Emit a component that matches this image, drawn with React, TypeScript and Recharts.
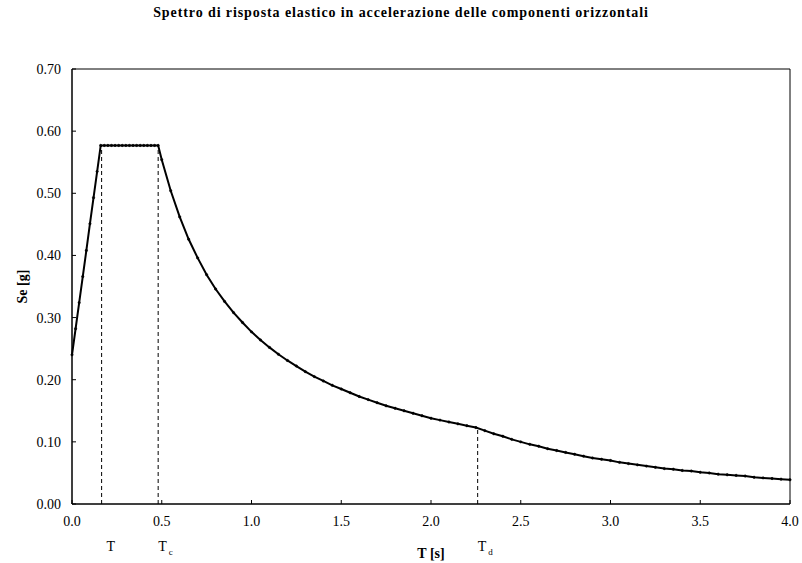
import React from "react";
import { LineChart, Line, XAxis, YAxis, ReferenceLine, ReferenceArea } from "recharts";

// periodo T [s]
const periods = [
  0, 0.02, 0.04, 0.06, 0.08, 0.1, 0.12, 0.14, 0.16, 0.18, 0.2, 0.22, 0.24, 0.26, 0.28, 0.3, 0.32, 0.34,
  0.36, 0.38, 0.4, 0.42, 0.44, 0.46, 0.48, 0.5, 0.55, 0.6, 0.65, 0.7, 0.75, 0.8, 0.85, 0.9, 0.95, 1.0,
  1.05, 1.1, 1.15, 1.2, 1.25, 1.3, 1.35, 1.4, 1.45, 1.5, 1.55, 1.6, 1.65, 1.7, 1.75, 1.8, 1.85, 1.9,
  1.95, 2.0, 2.05, 2.1, 2.15, 2.2, 2.25, 2.3, 2.35, 2.4, 2.45, 2.5, 2.55, 2.6, 2.65, 2.7, 2.75, 2.8,
  2.85, 2.9, 2.95, 3.0, 3.05, 3.1, 3.15, 3.2, 3.25, 3.3, 3.35, 3.4, 3.45, 3.5, 3.55, 3.6, 3.65, 3.7,
  3.75, 3.8, 3.85, 3.9, 3.95, 4.0,
];

// Se [g]
const accel = [
  0.24, 0.282, 0.324, 0.366, 0.408, 0.451, 0.493, 0.535, 0.577, 0.577, 0.577, 0.577, 0.577, 0.577, 0.577,
  0.577, 0.577, 0.577, 0.577, 0.577, 0.577, 0.577, 0.577, 0.577, 0.577, 0.554, 0.504, 0.462, 0.426,
  0.396, 0.369, 0.346, 0.326, 0.308, 0.292, 0.277, 0.264, 0.252, 0.241, 0.231, 0.222, 0.213, 0.205,
  0.198, 0.191, 0.185, 0.179, 0.173, 0.168, 0.163, 0.158, 0.154, 0.15, 0.146, 0.142, 0.138, 0.135,
  0.132, 0.129, 0.126, 0.123, 0.118, 0.113, 0.109, 0.104, 0.1, 0.096, 0.093, 0.089, 0.086, 0.083, 0.08,
  0.077, 0.074, 0.072, 0.07, 0.067, 0.065, 0.063, 0.061, 0.059, 0.057, 0.056, 0.054, 0.053, 0.051,
  0.05, 0.048, 0.047, 0.046, 0.045, 0.043, 0.042, 0.041, 0.04, 0.039,
];

const xTicks = [0, 0.5, 1, 1.5, 2, 2.5, 3, 3.5, 4];
const yTicks = [0, 0.1, 0.2, 0.3, 0.4, 0.5, 0.6, 0.7];

// periodi d'angolo (linee tratteggiate)
const cornerPeriods = [0.165, 0.48, 2.26];
const cornerValues = [0.577, 0.577, 0.123];
const cornerSubs = ["", "c", "d"];
const cornerShift = [5, 0, 0];

const data = periods.map((t, i) => ({ t, se: accel[i] }));

const FONT = "'Liberation Serif', 'Times New Roman', serif";

const CornerLabel = (props: any) => {
  const { viewBox, sub, shift } = props;
  if (!viewBox) return null;
  const x = viewBox.x + shift;
  const bottom = viewBox.y + viewBox.height;
  return (
    <text x={x} y={bottom + 47} fontFamily={FONT} fontSize={14} fill="#000">
      T
      {sub && (
        <tspan dx={2} dy={4} fontSize={9}>
          {sub}
        </tspan>
      )}
    </text>
  );
};

export default function App() {
  return (
    <div style={{ position: "absolute", left: 0, top: 0, width: 802, height: 563, background: "#fff" }}>
      <div
        style={{
          position: "absolute",
          top: 5,
          left: 0,
          width: 802,
          textAlign: "center",
          fontFamily: FONT,
          fontWeight: "bold",
          fontSize: 14,
          letterSpacing: 0.9,
          lineHeight: "normal",
        }}
      >
        Spettro di risposta elastico in accelerazione delle componenti orizzontali
      </div>
      <LineChart
        width={802}
        height={563}
        data={data}
        margin={{ top: 69, right: 12, bottom: 0, left: 0 }}
        style={{ fontFamily: FONT }}
      >
        <XAxis
          dataKey="t"
          type="number"
          domain={[0, 4]}
          ticks={xTicks}
          tickFormatter={(v: number) => v.toFixed(1)}
          height={59}
          axisLine={{ stroke: "#000" }}
          tickLine={{ stroke: "#000" }}
          tickSize={-4}
          tickMargin={16}
          tick={{ fill: "#000", fontSize: 14 }}
          label={{
            value: "T [s]",
            position: "insideBottom",
            offset: 5,
            style: { fontWeight: "bold", fontSize: 14, fill: "#000" },
          }}
        />
        <YAxis
          type="number"
          domain={[0, 0.7]}
          ticks={yTicks}
          tickFormatter={(v: number) => v.toFixed(2)}
          width={72}
          axisLine={{ stroke: "#000" }}
          tickLine={{ stroke: "#000" }}
          tickSize={-4}
          tickMargin={15}
          tick={{ fill: "#000", fontSize: 14 }}
          label={{
            value: "Se [g]",
            angle: -90,
            position: "insideLeft",
            offset: 22,
            style: { fontWeight: "bold", fontSize: 14, fill: "#000", textAnchor: "middle" },
          }}
        />
        <ReferenceArea x1={0} x2={4} y1={0} y2={0.7} fill="none" stroke="#000" strokeWidth={1} />
        {cornerPeriods.map((p, i) => (
          <ReferenceLine
            key={`corner-${i}`}
            segment={[
              { x: p, y: 0 },
              { x: p, y: cornerValues[i] },
            ]}
            stroke="#000"
            strokeDasharray="4 3"
            label={<CornerLabel sub={cornerSubs[i]} shift={cornerShift[i]} />}
          />
        ))}
        <Line
          dataKey="se"
          type="linear"
          stroke="#000"
          strokeWidth={2}
          dot={{ r: 1.2, fill: "#000", stroke: "#000", strokeWidth: 0.5 }}
          isAnimationActive={false}
        />
      </LineChart>
    </div>
  );
}
